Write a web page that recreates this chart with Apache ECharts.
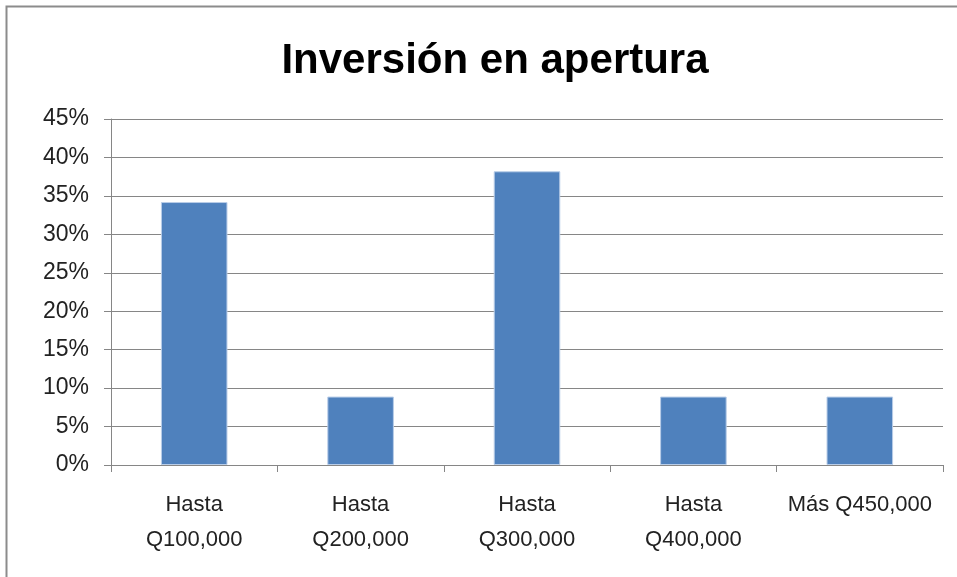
<!DOCTYPE html>
<html>
<head>
<meta charset="utf-8">
<script src="https://cdn.jsdelivr.net/npm/echarts@6/dist/echarts.min.js"></script>
<style>
  html, body { margin: 0; padding: 0; background: #fff; }
  #chart { width: 957px; height: 577px; }
</style>
</head>
<body>
<div id="chart"></div>
<script>
var titleText = 'Inversión en apertura';
var categories = ['Hasta\nQ100,000', 'Hasta\nQ200,000', 'Hasta\nQ300,000', 'Hasta\nQ400,000', 'Más Q450,000'];
var values = [34.2, 8.9, 38.2, 8.9, 8.9];
var yTicks = [0, 5, 10, 15, 20, 25, 30, 35, 40, 45];

var chart = echarts.init(document.getElementById('chart'));
var font = '"Liberation Sans", Arial, sans-serif';
var option = {
    animation: false,
    title: {
        text: titleText,
        left: 490,
        top: 35,
        textAlign: 'center',
        textStyle: {
            fontFamily: font,
            fontSize: 42,
            fontWeight: 'bold',
            color: '#000'
        }
    },
    graphic: [{
        type: 'rect',
        shape: { x: 6.5, y: 6.5, width: 1000, height: 700 },
        style: { fill: 'none', stroke: '#8c8c8c', lineWidth: 2 },
        silent: true
    }],
    grid: {
        left: 111,
        right: 14,
        top: 119,
        bottom: 112
    },
    xAxis: {
        type: 'category',
        data: categories,
        axisLine: { lineStyle: { color: '#868686', width: 1 } },
        axisTick: { show: true, interval: 0, length: 7, lineStyle: { color: '#868686' } },
        axisLabel: {
            interval: 0,
            margin: 22,
            fontFamily: font,
            fontSize: 22,
            lineHeight: 35,
            color: '#222',
            verticalAlign: 'top'
        }
    },
    yAxis: {
        type: 'value',
        min: yTicks[0],
        max: yTicks[yTicks.length - 1],
        interval: 5,
        axisLine: { show: true, lineStyle: { color: '#868686', width: 1 } },
        axisTick: { show: true, length: 7, lineStyle: { color: '#868686' } },
        splitLine: { lineStyle: { color: '#868686', width: 1 } },
        axisLabel: {
            margin: 22,
            fontFamily: font,
            fontSize: 23,
            color: '#222',
            formatter: '{value}%'
        }
    },
    series: [{
        type: 'bar',
        data: values,
        barWidth: '40%',
        itemStyle: {
            color: '#4F81BD',
            borderColor: '#b9cde8',
            borderWidth: 1
        }
    }]
};
chart.setOption(option);
</script>
</body>
</html>
